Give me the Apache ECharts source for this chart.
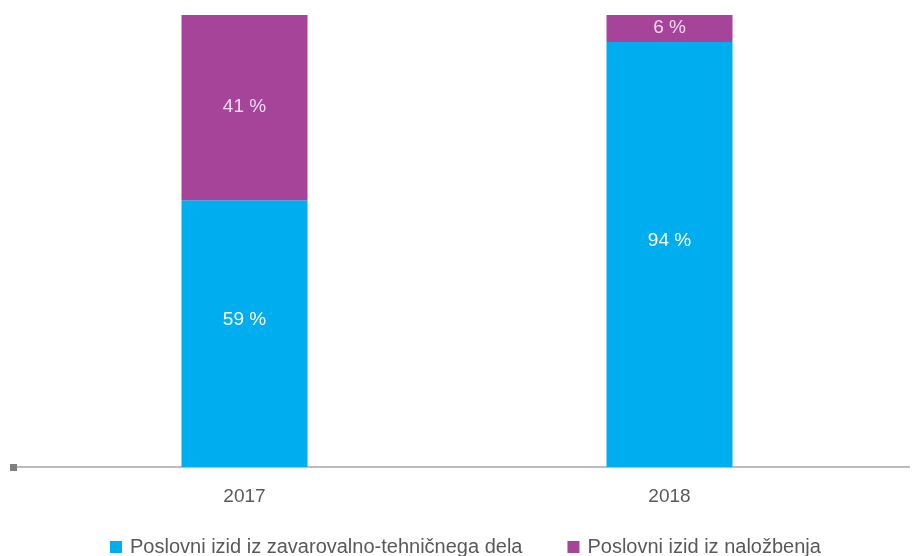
<!DOCTYPE html>
<html>
<head>
<meta charset="utf-8">
<script src="https://cdn.jsdelivr.net/npm/echarts@6/dist/echarts.min.js"></script>
<style>
  html, body { margin: 0; padding: 0; background: #fff; }
  #chart { width: 914px; height: 556px; }
</style>
</head>
<body>
<div id="chart"></div>
<script>
// kategorije in deleži (v %)
const years = ['2017', '2018']
const zavarovalnoTehnicni = [59, 94]
const nalozbe = [41, 6]
const seriesNames = ['Poslovni izid iz zavarovalno-tehničnega dela', 'Poslovni izid iz naložbenja']

const FONT = '"Liberation Sans", Arial, sans-serif'

const chart = echarts.init(document.getElementById('chart'))

const labelStyle = (color, offset) => ({
  show: true,
  position: 'inside',
  offset: offset,
  color: color,
  fontSize: 19,
  fontFamily: FONT,
  formatter: p => p.value + ' %'
})

chart.setOption({
  animation: false,
  textStyle: { fontFamily: FONT },
  grid: { left: 32, right: 32, top: 15, bottom: 89 },
  xAxis: {
    type: 'category',
    data: years,
    axisLine: { show: false },
    axisTick: { show: false },
    axisLabel: { color: '#595959', fontSize: 19, margin: 20, fontFamily: FONT }
  },
  yAxis: {
    type: 'value',
    min: 0,
    max: 100,
    show: false,
    splitLine: { show: false }
  },
  legend: {
    left: 105,
    top: 532,
    itemGap: 45,
    itemWidth: 12,
    itemHeight: 12,
    icon: 'rect',
    textStyle: { color: '#595959', fontSize: 20, fontFamily: FONT, padding: [0, 0, 0, 3] },
    data: seriesNames
  },
  // os x sega čez ves graf, z majhnim kvadratkom na levem koncu
  graphic: [
    { type: 'line', shape: { x1: 14, y1: 467, x2: 910, y2: 467 }, style: { stroke: '#a6a6a6', lineWidth: 1.5 } },
    { type: 'rect', shape: { x: 10, y: 464, width: 7, height: 7 }, style: { fill: '#7f7f7f' } }
  ],
  series: [
    {
      name: seriesNames[0],
      type: 'bar',
      stack: 'total',
      barWidth: 126,
      data: zavarovalnoTehnicni,
      itemStyle: { color: '#00aeef' },
      label: labelStyle('#ffffff', [0, -14])
    },
    {
      name: seriesNames[1],
      type: 'bar',
      stack: 'total',
      barWidth: 126,
      data: nalozbe,
      itemStyle: { color: '#a6449a' },
      label: labelStyle('#f4d8f0', [0, -1])
    }
  ]
})
</script>
</body>
</html>
